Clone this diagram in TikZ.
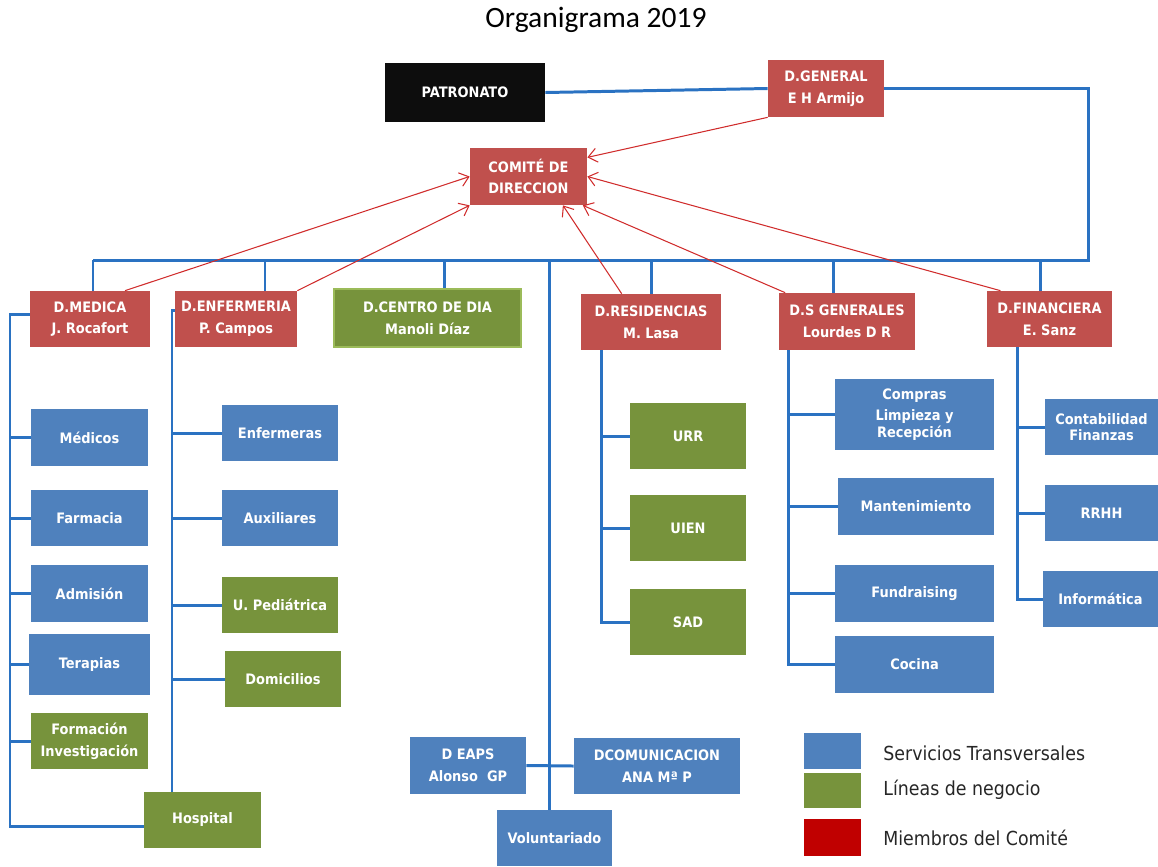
\documentclass[tikz,border=0pt]{standalone}
\usepackage{fontspec}
\setmainfont{DejaVu Sans Condensed}
\newfontfamily\titlefont{Carlito}
\usetikzlibrary{arrows.meta}
\definecolor{boxred}{HTML}{C0504D}
\definecolor{boxblue}{HTML}{4F81BD}
\definecolor{boxgreen}{HTML}{77933C}
\definecolor{lightgreen}{HTML}{9BBB59}
\definecolor{lineblue}{HTML}{2A72C2}
\definecolor{arrowred}{HTML}{D02C2C}
\definecolor{legred}{HTML}{C00000}
\definecolor{legtext}{HTML}{262626}

\begin{document}
\begin{tikzpicture}[x=0.02cm, y=-0.02cm,
  sz/.style 2 args={minimum width=#1*0.02cm, minimum height=#2*0.02cm},
  box/.style={inner sep=0pt, align=center, text=white, font=\fontsize{8.2}{12.3}\selectfont\bfseries},
  redbox/.style={box, fill=boxred},
  bluebox/.style={box, fill=boxblue},
  greenbox/.style={box, fill=boxgreen},
  bline/.style={lineblue, line width=1.7pt},
  rarrow/.style={arrowred, line width=0.6pt, -{Straight Barb[length=5pt,width=8pt]}},
  legtxt/.style={anchor=west, inner sep=0pt, text=legtext, font=\fontsize{11}{13}\selectfont}]
\useasboundingbox (0,0) rectangle (1158,866);

\node[font=\titlefont\fontsize{16.8}{20}\selectfont] (title) at (596,20) {Organigrama 2019};

% top
\node[box, fill=black!95, sz={160}{59}] (pat) at (465,92.5) {PATRONATO};
\node[redbox, sz={116}{57}] (gen) at (826,88.5) {D.GENERAL\\E H Armijo};
\node[redbox, sz={117}{57}] (com) at (528.5,176.5) {COMITÉ DE\\DIRECCION};

% directores
\node[redbox, sz={120}{56}] (med) at (90,319) {D.MEDICA\\J. Rocafort};
\node[redbox, sz={122}{56}] (enf) at (236,319) {D.ENFERMERIA\\P. Campos};
\node[greenbox, draw=lightgreen, line width=1pt, sz={187}{58}] (cdia) at (427.5,318) {D.CENTRO DE DIA\\Manoli Díaz};
\node[redbox, sz={140}{56}] (res) at (651,322) {D.RESIDENCIAS\\M. Lasa};
\node[redbox, sz={136}{57}] (sgen) at (847,321.5) {D.S GENERALES\\Lourdes D R};
\node[redbox, sz={125}{56}] (fin) at (1049.5,319) {D.FINANCIERA\\E. Sanz};

% D.MEDICA
\node[bluebox, sz={117}{57}] (medicos) at (89.5,437.5) {Médicos};
\node[bluebox, sz={117}{56}] (farmacia) at (89.5,518) {Farmacia};
\node[bluebox, sz={117}{57}] (admision) at (89.5,593.5) {Admisión};
\node[bluebox, sz={121}{61}] (terapias) at (89.5,664.5) {Terapias};
\node[greenbox, sz={117}{56}] (formacion) at (89.5,741) {Formación\\Investigación};
\node[greenbox, sz={117}{56}] (hospital) at (202.5,820) {Hospital};

% D.ENFERMERIA
\node[bluebox, sz={116}{56}] (enfermeras) at (280,433) {Enfermeras};
\node[bluebox, sz={116}{56}] (auxiliares) at (280,518) {Auxiliares};
\node[greenbox, sz={116}{56}] (pediatrica) at (280,605) {U. Pediátrica};
\node[greenbox, sz={116}{56}] (domicilios) at (283,679) {Domicilios};

% D.RESIDENCIAS
\node[greenbox, sz={116}{66}] (urr) at (688,436) {URR};
\node[greenbox, sz={116}{66}] (uien) at (688,528) {UIEN};
\node[greenbox, sz={116}{66}] (sad) at (688,622) {SAD};

% D.S GENERALES
\node[bluebox, sz={159}{71}] (compras) at (914.5,414.5) {Compras\\Limpieza y\\[-2.6pt]Recepción};
\node[bluebox, sz={156}{57}] (mant) at (916,506.5) {Mantenimiento};
\node[bluebox, sz={159}{57}] (fund) at (914.5,593.5) {Fundraising};
\node[bluebox, sz={159}{57}] (cocina) at (914.5,664.5) {Cocina};

% D.FINANCIERA
\node[bluebox, sz={113}{56}] (conta) at (1101.5,427) {Contabilidad\\[-3.2pt]Finanzas};
\node[bluebox, sz={113}{56}] (rrhh) at (1101.5,513) {RRHH};
\node[bluebox, sz={115}{56}] (info) at (1100.5,599) {Informática};

% abajo
\node[bluebox, sz={116}{57}] (eaps) at (468,765.5) {D EAPS\\Alonso~ GP};
\node[bluebox, sz={166}{56}] (comu) at (657,766) {DCOMUNICACION\\ANA Mª P};
\node[bluebox, sz={115}{56}] (volun) at (554.5,838) {Voluntariado};

% leyenda
\node[fill=boxblue, sz={57}{36}] (legT) at (832.5,751) {};
\node[fill=boxgreen, sz={57}{35}] (legL) at (832.5,790.5) {};
\node[fill=legred, sz={57}{37}] (legM) at (832.5,837.5) {};
\node[legtxt] (legTtxt) at (883,753) {Servicios Transversales};
\node[legtxt] (legLtxt) at (883,790) {Líneas de negocio};
\node[legtxt] (legMtxt) at (883,838) {Miembros del Comité};

% lineas azules
\coordinate (busL) at (93,260);
\coordinate (busR) at (1088,260);
\draw[bline] (pat.east) -- (gen.west);
\draw[bline] (gen.east) -| (busR) -- (busL);
\foreach \n/\x in {med/93, enf/265, cdia/444, res/651, sgen/833, fin/1040, volun/549} {
  \coordinate (t) at (\x,260);
  \draw[bline] (t) -- (t |- \n.north);
}

\coordinate (mB) at (10,826);
\draw[bline] (med.176) -| (mB) -- (hospital.west |- mB);
\foreach \n in {medicos,farmacia,admision,terapias,formacion}
  \draw[bline] (\n.west) -- (\n.west -| mB);

\coordinate (eB) at (172,792);
\draw[bline] (enf.172) -| (eB);
\foreach \n in {enfermeras,auxiliares,pediatrica,domicilios}
  \draw[bline] (\n.west) -- (\n.west -| eB);

\coordinate (rT) at (601,350);
\draw[bline] (rT) |- (sad.west);
\foreach \n in {urr,uien}
  \draw[bline] (\n.west) -- (\n.west -| rT);

\coordinate (sT) at (788,350);
\draw[bline] (sT) |- (cocina.west);
\foreach \n in {compras,mant,fund}
  \draw[bline] (\n.west) -- (\n.west -| sT);

\coordinate (fT) at (1017,347);
\draw[bline] (fT) |- (info.west);
\foreach \n in {conta,rrhh}
  \draw[bline] (\n.west) -- (\n.west -| fT);

\draw[bline] (eaps.east) -- (comu.west);

% flechas al comite
\draw[rarrow] (gen.south west) -- (com.18);
\draw[rarrow] (med.39) -- (com.west);
\draw[rarrow] (enf.north east) -- (com.south west);
\draw[rarrow] (res.136) -- (com.320);
\draw[rarrow] (sgen.155) -- (com.332);
\draw[rarrow] (fin.150) -- (com.east);
\end{tikzpicture}
\end{document}
